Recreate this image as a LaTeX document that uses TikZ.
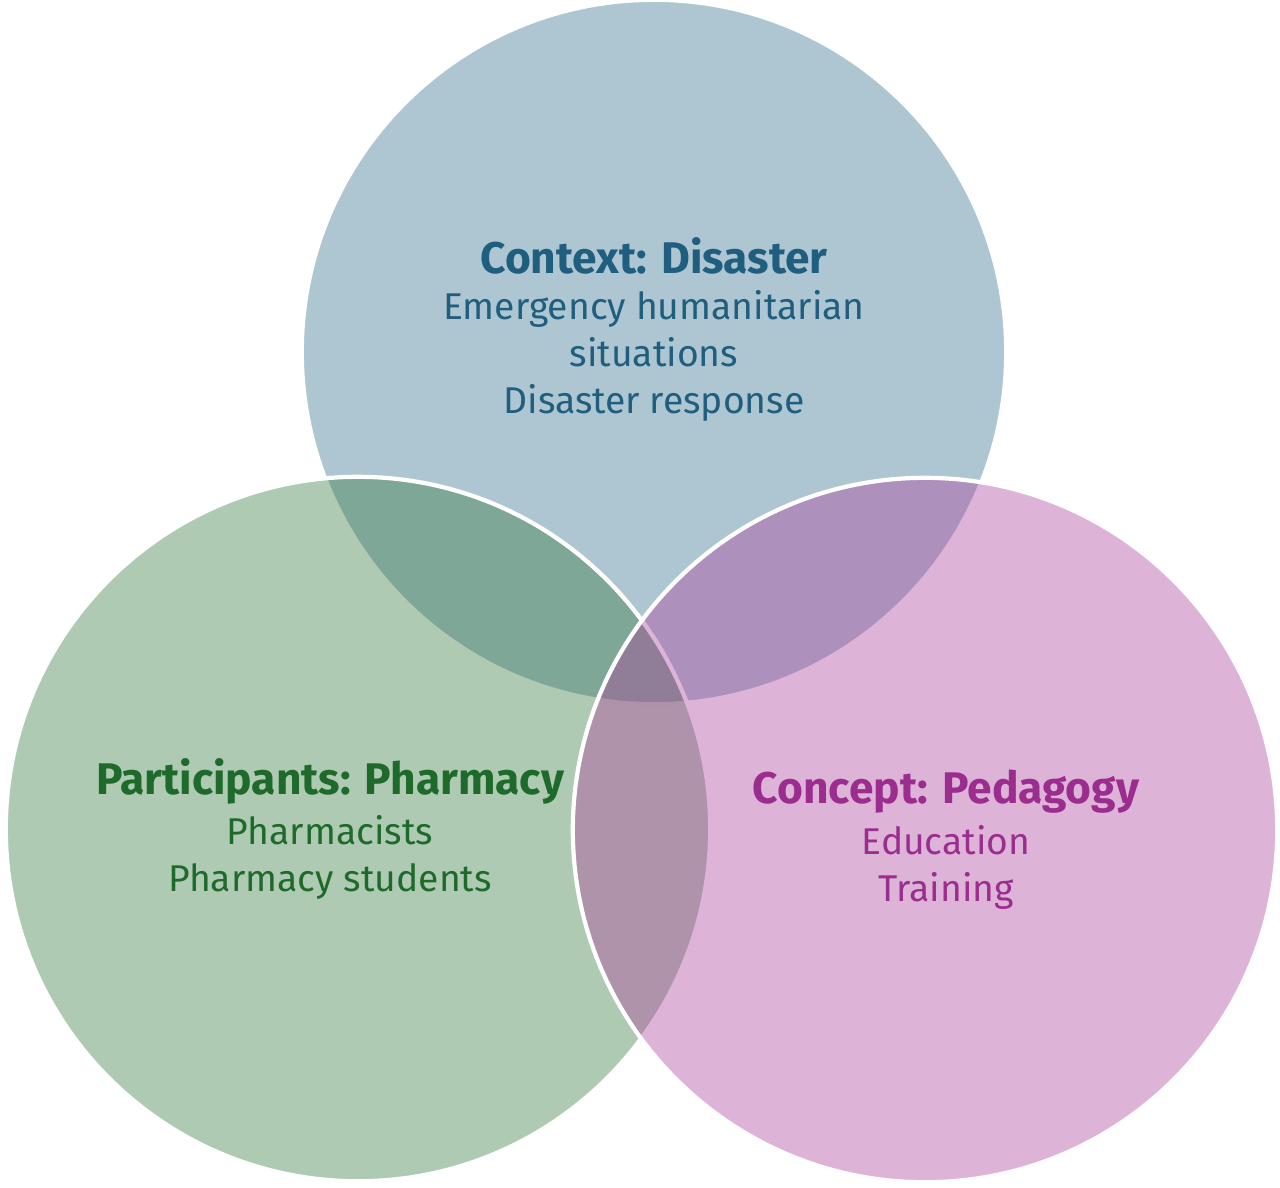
\documentclass[tikz,border=0pt]{standalone}
\usepackage{fontspec}
\setmainfont{Fira Sans}
\definecolor{topc}{RGB}{52,112,140}
\definecolor{leftc}{RGB}{55,122,65}
\definecolor{rightc}{RGB}{172,65,157}
\definecolor{toptxt}{RGB}{31,94,126}
\definecolor{lefttxt}{RGB}{30,106,42}
\definecolor{righttxt}{RGB}{155,45,143}
\tikzset{
  venn/.style={circle, minimum size=7.04cm, inner sep=0pt, draw=white, line width=1.2pt, fill opacity=0.4, draw opacity=1},
  title/.style={font=\fontsize{12.6}{14}\selectfont\bfseries, anchor=center, inner sep=0pt},
  body/.style={font=\fontsize{10.6}{13.4}\selectfont, align=center, anchor=center, inner sep=0pt},
}
\begin{document}
\begin{tikzpicture}[x=0.01cm,y=-0.01cm]
\useasboundingbox (0,0) rectangle (1280,1187);
\node[venn, fill=topc] (ctop) at (654,352) {};
\node[venn, fill=leftc] (cleft) at (358,829) {};
\node[venn, fill=rightc] (cright) at (925,830) {};
\node[title, text=toptxt] (t1) at (654,256) {Context: Disaster};
\node[body, text=toptxt] (b1) at (654,356) {Emergency humanitarian\\situations\\Disaster response};
\node[title, text=lefttxt] (t2) at (330,781) {Participants: Pharmacy};
\node[body, text=lefttxt] (b2) at (330,857) {Pharmacists\\Pharmacy students};
\node[title, text=righttxt] (t3) at (946,792) {Concept: Pedagogy};
\node[body, text=righttxt] (b3) at (946,867) {Education\\Training};
\end{tikzpicture}
\end{document}
